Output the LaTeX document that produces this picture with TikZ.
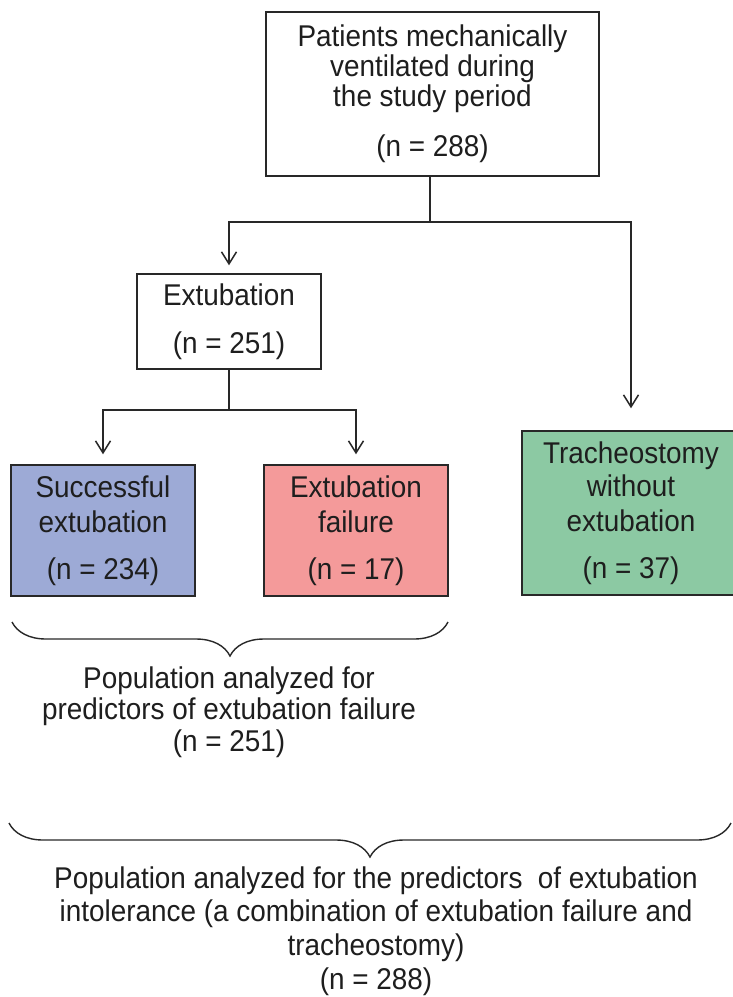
\documentclass[tikz,border=0pt]{standalone}
\usepackage{fontspec}
\setmainfont{Liberation Sans}[FakeStretch=0.93]
\usetikzlibrary{arrows.meta,decorations.pathreplacing}
\definecolor{succblue}{RGB}{157,170,214}
\definecolor{failpink}{RGB}{244,154,154}
\definecolor{trachgreen}{RGB}{140,201,163}
\definecolor{edgecol}{RGB}{40,40,40}
\definecolor{txtcol}{RGB}{30,30,30}
\begin{document}
\begin{tikzpicture}[x=1pt,y=-1pt,
  box/.style={draw=edgecol, line width=1.5pt, align=center, inner sep=0pt,
    font=\fontsize{30}{31}\selectfont, text=txtcol},
  conn/.style={draw=edgecol, line width=1.5pt},
  arr/.style={conn, -{Straight Barb[length=12pt,width=15pt,line width=1.5pt]}},
  bracestyle/.style={draw=edgecol, line width=1.4pt, decorate,
    decoration={brace, amplitude=34pt}},
  poptext/.style={align=center, inner sep=0pt, text=txtcol}
]
\useasboundingbox (0,0) rectangle (733,997);
\fill[white] (0,0) rectangle (733,997);

\node[box, minimum width=333pt, minimum height=164pt] (top) at (432.5,94)
  {Patients mechanically\\[-1pt]ventilated during\\[-1pt]the study period\\[19pt](n = 288)};
\node[box, minimum width=184pt, minimum height=95pt] (ext) at (229,321.5)
  {Extubation\\[17pt](n = 251)};
\node[box, fill=succblue, minimum width=184pt, minimum height=131pt] (succ) at (103,530.5)
  {Successful\\[4pt]extubation\\[16pt](n = 234)};
\node[box, fill=failpink, minimum width=184pt, minimum height=131pt] (fail) at (356,530.5)
  {Extubation\\[4pt]failure\\[16pt](n = 17)};
\node[box, fill=trachgreen, minimum width=218pt, minimum height=164pt] (tr) at (631,513)
  {Tracheostomy\\[2pt]without\\[4pt]extubation\\[16pt](n = 37)};

\coordinate (j1) at (430,222);
\coordinate (j2) at (229,410);
\draw[conn] (top.south -| j1) -- (j1);
\draw[arr, shorten >=8pt] (j1) -| (ext.north);
\draw[arr, shorten >=22pt] (j1) -| (tr.north);
\draw[conn] (ext.south) -- (j2);
\draw[arr, shorten >=10pt] (j2) -| (succ.north);
\draw[arr, shorten >=10pt] (j2) -| (fail.north);

\coordinate (b1r) at (448,622);
\coordinate (b1l) at (12,622);
\draw[bracestyle] (b1r) -- (b1l);
\node[poptext, font=\fontsize{30}{31.5}\selectfont] (pop1) at (229,712)
  {Population analyzed for\\predictors of extubation failure\\(n = 251)};

\coordinate (b2r) at (731,823);
\coordinate (b2l) at (9,823);
\draw[bracestyle] (b2r) -- (b2l);
\node[poptext, font=\fontsize{30}{33.8}\selectfont] (pop2) at (376,931)
  {Population analyzed for the predictors~ of extubation\\intolerance (a combination of extubation failure and\\tracheostomy)\\(n = 288)};
\end{tikzpicture}
\end{document}
